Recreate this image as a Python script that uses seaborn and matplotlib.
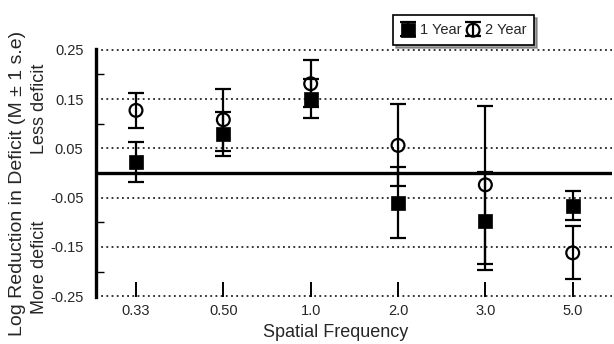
import matplotlib
matplotlib.use("Agg")
import matplotlib.pyplot as plt
from matplotlib.legend_handler import HandlerTuple
import numpy as np
import pandas as pd
import seaborn as sns

# Values (log reduction in deficit, mean and 1 s.e.)
freq_labels = ["0.33", "0.50", "1.0", "2.0", "3.0", "5.0"]
year1_mean = [0.022, 0.079, 0.151, -0.060, -0.097, -0.066]
year1_se = [0.041, 0.045, 0.039, 0.072, 0.100, 0.029]
year2_mean = [0.127, 0.108, 0.181, 0.056, -0.024, -0.162]
year2_se = [0.035, 0.063, 0.048, 0.083, 0.160, 0.054]
ytick_vals = [0.25, 0.15, 0.05, -0.05, -0.15, -0.25]
ytick_labels = ["0.25", "0.15", "0.05", "-0.05", "-0.15", "-0.25"]
yminor_vals = [0.20, 0.10, 0.0, -0.10, -0.20]

sns.set_theme(style="white")
plt.rcParams["font.family"] = ["Liberation Sans", "DejaVu Sans"]

df1 = pd.DataFrame({"freq": freq_labels, "value": year1_mean, "se": year1_se})
df2 = pd.DataFrame({"freq": freq_labels, "value": year2_mean, "se": year2_se})

fig = plt.figure(figsize=(6.14, 3.44), dpi=100)
ax = fig.add_axes([96 / 614, 1 - 297 / 344, (612 - 96) / 614, (297 - 49) / 344])

# error bars first, markers on top
xpos = np.arange(len(freq_labels))
eb1 = ax.errorbar(xpos, df1["value"], yerr=df1["se"], fmt="none", ecolor="black",
                  elinewidth=1.6, capsize=5.8, capthick=1.6, zorder=3)
eb2 = ax.errorbar(xpos, df2["value"], yerr=df2["se"], fmt="none", ecolor="black",
                  elinewidth=1.6, capsize=5.8, capthick=1.6, zorder=3)

sns.scatterplot(data=df1, x="freq", y="value", marker="s", s=90, color="black",
                edgecolor="black", linewidth=0.5, label="1 Year", ax=ax, zorder=4)
sns.scatterplot(data=df2, x="freq", y="value", marker="o", s=85, facecolor="none",
                edgecolor="black", linewidth=1.6, label="2 Year", ax=ax, zorder=5)

ax.axhline(0, color="black", linewidth=2.4, zorder=2)

ax.set_ylim(-0.2515, 0.2515)
ax.set_xlim(-0.458, 5.45)
ax.set_yticks(ytick_vals)
ax.set_yticklabels(ytick_labels)
ax.set_yticks(yminor_vals, minor=True)
ax.yaxis.grid(True, which="major", linestyle=(0, (1.2, 2.2)), color="black", linewidth=1.1)
ax.tick_params(axis="y", which="major", direction="out", length=6, width=0.8,
               color="black", labelsize=10.5, pad=3)
ax.tick_params(axis="y", which="minor", direction="in", length=6, width=1,
               color="black", left=True)
ax.tick_params(axis="x", which="major", direction="in", length=11, width=1.4,
               color="black", labelsize=10.5, pad=5, bottom=True)

for side in ["top", "right", "bottom"]:
    ax.spines[side].set_visible(False)
ax.spines["left"].set_linewidth(2.4)
ax.spines["left"].set_color("black")

ax.set_ylabel("")
ax.set_xlabel("Spatial Frequency", fontsize=13)
ax.xaxis.set_label_coords((336 - 96) / 516, -0.145)
ax.xaxis.label.set_va("center")

fig.text(18 / 614, 1 - 183 / 344, "Log Reduction in Deficit (M \u00b1 1 s.e)",
         rotation=90, ha="center", va="center", fontsize=14)
fig.text(40 / 614, 1 - 109 / 344, "Less deficit", rotation=90,
         ha="center", va="center", fontsize=13)
fig.text(40 / 614, 1 - 267 / 344, "More deficit", rotation=90,
         ha="center", va="center", fontsize=13)

handles, labels = ax.get_legend_handles_labels()
leg = ax.legend([(eb1, handles[0]), (eb2, handles[1])], labels,
                handler_map={tuple: HandlerTuple(ndivide=1, pad=0)},
                loc="upper left", bbox_to_anchor=(393 / 614, 1 - 15 / 344),
                bbox_transform=fig.transFigure, borderaxespad=0, ncol=2,
                fontsize=10.5, frameon=True, fancybox=False, shadow=True,
                handlelength=1.0, handletextpad=0.3, columnspacing=0.3,
                borderpad=0.55)
leg.get_frame().set_edgecolor("black")
leg.get_frame().set_linewidth(1.2)

fig.savefig("out.png", dpi=100)
